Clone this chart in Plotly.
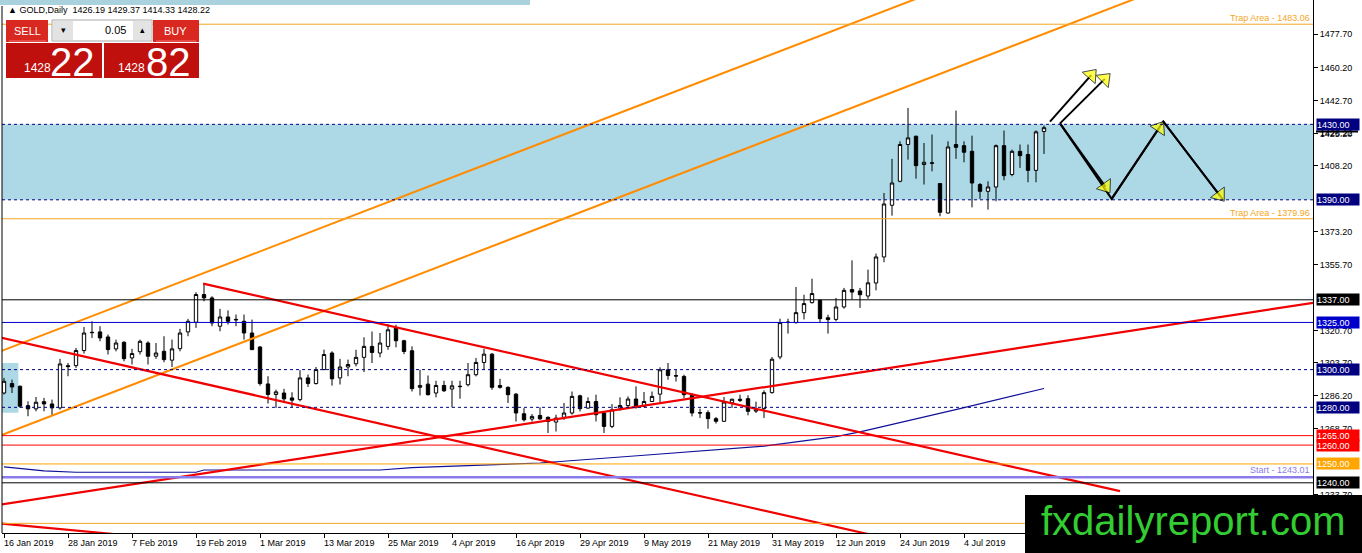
import plotly.graph_objects as go

# ---------------- data ----------------
label_bars = [0, 8, 16, 24, 32, 40, 48, 56, 64, 72, 80, 88, 96, 104, 112, 120]
date_labels = ["16 Jan 2019", "28 Jan 2019", "7 Feb 2019", "19 Feb 2019", "1 Mar 2019",
               "13 Mar 2019", "25 Mar 2019", "4 Apr 2019", "16 Apr 2019", "29 Apr 2019",
               "9 May 2019", "21 May 2019", "31 May 2019", "12 Jun 2019", "24 Jun 2019",
               "4 Jul 2019"]

opens = [1287.6, 1292.6, 1291.2, 1280.9, 1279.2, 1283.0, 1281.8, 1279.7, 1302.1, 1302.1,
         1310.1, 1319.8, 1320.0, 1317.3, 1311.0, 1314.5, 1306.2, 1309.5, 1314.1, 1307.1,
         1309.7, 1305.0, 1311.1, 1320.0, 1325.1, 1339.8, 1338.0, 1323.0, 1327.9, 1326.6,
         1325.6, 1319.4, 1312.0, 1292.4, 1286.8, 1287.6, 1285.0, 1284.1, 1295.6, 1292.6,
         1300.0, 1308.8, 1295.6, 1301.4, 1303.1, 1306.5, 1312.3, 1308.8, 1312.3, 1322.0,
         1315.3, 1310.0, 1290.6, 1292.3, 1287.6, 1291.6, 1289.7, 1291.2, 1292.0, 1297.3,
         1303.8, 1308.2, 1291.6, 1290.6, 1287.0, 1276.6, 1273.8, 1275.7, 1274.7, 1272.2,
         1274.7, 1277.0, 1286.1, 1279.6, 1283.1, 1277.0, 1269.9, 1279.6, 1281.0, 1284.4,
         1280.5, 1283.1, 1287.0, 1299.9, 1296.8, 1296.4, 1286.3, 1277.2, 1277.2, 1274.0,
         1272.6, 1282.5, 1284.3, 1284.6, 1278.0, 1279.3, 1287.8, 1306.7, 1325.2, 1324.9,
         1330.2, 1335.5, 1336.7, 1327.5, 1326.6, 1333.2, 1342.4, 1341.7, 1339.0, 1345.9,
         1359.7, 1387.1, 1399.8, 1419.3, 1423.7, 1408.7, 1409.6, 1398.6, 1383.0, 1419.3,
         1418.7, 1415.7, 1398.1, 1394.5, 1396.8, 1418.7, 1403.4, 1415.7, 1414.0, 1405.6,
         1426.19]
highs = [1295.6, 1294.7, 1291.5, 1283.2, 1285.5, 1285.0, 1284.1, 1305.7, 1303.5, 1311.5,
         1322.6, 1325.6, 1323.0, 1318.6, 1315.9, 1315.0, 1311.0, 1315.9, 1315.0, 1314.1,
         1317.7, 1315.9, 1321.6, 1326.9, 1341.0, 1345.9, 1338.9, 1332.2, 1331.4, 1329.2,
         1329.2, 1326.5, 1312.4, 1296.5, 1289.4, 1289.8, 1288.0, 1299.7, 1297.4, 1301.4,
         1310.6, 1309.7, 1305.7, 1305.3, 1310.5, 1317.1, 1320.2, 1319.4, 1324.1, 1323.8,
         1315.8, 1312.3, 1299.9, 1296.9, 1294.1, 1294.1, 1294.1, 1294.1, 1303.5, 1306.1,
         1311.0, 1308.8, 1295.1, 1291.1, 1287.6, 1279.6, 1276.4, 1280.0, 1275.2, 1276.1,
         1282.3, 1288.4, 1286.7, 1285.3, 1286.7, 1277.8, 1281.7, 1285.3, 1285.8, 1291.1,
         1288.1, 1288.4, 1301.2, 1303.5, 1299.9, 1297.3, 1287.6, 1279.3, 1278.4, 1274.9,
         1285.5, 1284.6, 1286.7, 1286.4, 1283.0, 1289.0, 1306.7, 1327.0, 1327.0, 1343.8,
         1339.7, 1348.2, 1337.2, 1329.1, 1338.0, 1343.3, 1357.9, 1343.3, 1353.0, 1361.5,
         1393.6, 1411.7, 1421.0, 1438.7, 1424.0, 1420.1, 1424.6, 1398.9, 1421.0, 1437.3,
         1421.0, 1424.0, 1398.9, 1399.8, 1419.3, 1426.7, 1416.6, 1419.3, 1419.3, 1426.8,
         1429.37]
lows = [1286.8, 1287.6, 1279.7, 1275.3, 1277.9, 1277.9, 1275.6, 1278.8, 1296.5, 1300.9,
        1308.5, 1316.8, 1315.0, 1308.0, 1309.7, 1304.4, 1302.7, 1308.0, 1302.7, 1305.7,
        1303.9, 1301.4, 1309.7, 1317.7, 1322.1, 1336.2, 1323.0, 1320.3, 1323.9, 1323.0,
        1315.9, 1310.3, 1291.5, 1282.0, 1279.7, 1282.4, 1279.7, 1283.2, 1290.8, 1292.1,
        1299.7, 1291.5, 1292.1, 1296.5, 1301.7, 1298.7, 1303.5, 1306.5, 1310.5, 1311.8,
        1308.2, 1288.4, 1286.3, 1286.3, 1285.3, 1288.1, 1280.0, 1284.6, 1291.1, 1296.4,
        1299.9, 1289.3, 1289.9, 1282.3, 1272.5, 1272.5, 1272.5, 1273.4, 1266.4, 1267.2,
        1273.4, 1276.1, 1277.8, 1279.3, 1272.5, 1266.4, 1269.0, 1278.2, 1279.6, 1279.3,
        1280.0, 1282.8, 1282.8, 1294.6, 1293.7, 1284.9, 1275.2, 1274.4, 1268.7, 1271.4,
        1272.3, 1279.7, 1282.8, 1275.8, 1277.0, 1274.4, 1287.3, 1305.5, 1319.1, 1324.4,
        1326.6, 1335.0, 1324.9, 1319.1, 1325.6, 1332.3, 1337.2, 1332.7, 1337.5, 1342.0,
        1356.9, 1381.6, 1399.3, 1411.3, 1401.2, 1398.1, 1405.1, 1381.3, 1382.7, 1411.7,
        1409.9, 1386.0, 1390.5, 1384.8, 1389.2, 1400.4, 1402.5, 1406.9, 1399.3, 1399.3,
        1414.33]
closes = [1293.8, 1290.8, 1280.6, 1279.2, 1282.7, 1281.8, 1279.7, 1303.0, 1301.6, 1310.1,
          1319.4, 1319.6, 1316.8, 1310.6, 1314.1, 1305.8, 1308.5, 1315.0, 1307.1, 1308.8,
          1305.3, 1311.0, 1319.4, 1325.6, 1339.8, 1338.0, 1324.7, 1327.9, 1325.6, 1326.4,
          1319.4, 1310.6, 1292.6, 1286.8, 1288.2, 1284.5, 1283.8, 1295.6, 1292.6, 1300.0,
          1308.0, 1295.1, 1301.4, 1302.7, 1306.5, 1312.3, 1309.1, 1314.1, 1321.1, 1315.3,
          1309.6, 1289.9, 1291.6, 1286.7, 1291.6, 1288.8, 1291.4, 1291.0, 1297.3, 1303.8,
          1308.2, 1290.6, 1290.6, 1286.7, 1277.0, 1273.4, 1275.2, 1273.9, 1272.5, 1274.3,
          1277.0, 1285.8, 1279.3, 1283.1, 1276.1, 1269.9, 1278.7, 1281.0, 1284.4, 1280.0,
          1283.1, 1285.8, 1299.9, 1296.9, 1296.6, 1286.7, 1277.0, 1277.0, 1274.0, 1272.6,
          1282.8, 1284.3, 1283.7, 1277.9, 1278.8, 1287.8, 1305.5, 1324.9, 1325.0, 1330.2,
          1335.0, 1340.3, 1327.0, 1326.5, 1333.2, 1342.0, 1341.1, 1339.7, 1346.0, 1359.7,
          1387.8, 1398.9, 1419.3, 1422.8, 1408.1, 1409.9, 1409.4, 1383.4, 1418.0, 1417.8,
          1415.2, 1398.9, 1394.5, 1396.8, 1418.7, 1402.8, 1415.7, 1413.4, 1405.6, 1426.0,
          1428.22]
bars = list(range(len(opens)))

# moving average (bar index, price)
ma_bars = [0, 5, 9, 24, 25, 47, 51, 62, 67, 80, 95, 104, 107, 119.5, 130]
ma_vals = [1248.5, 1246.3, 1245.6, 1245.6, 1246.8, 1246.8, 1248.1, 1249.6, 1250.5,
           1254.6, 1259.4, 1264.5, 1267.0, 1279.3, 1290.0]

# right-axis price ticks that are visible in the reference
y_ticks = [1477.7, 1460.2, 1442.7, 1425.2, 1408.2, 1373.2, 1355.7,
           1320.7, 1303.7, 1286.2, 1268.7, 1233.7]

zone_low, zone_high = 1390.0, 1430.0
left_box_bars = [-1.0, 1.8]
left_box_prices = [1277.2, 1303.5]

trap_prices = [1483.06, 1379.96]
start_price = 1243.01
extra_orange_price = 1218.5
level_prices = [1430.0, 1390.0, 1337.0, 1325.0, 1300.0, 1280.0, 1265.0, 1260.0, 1250.0, 1240.0]

# trendlines: (bar, price) endpoints
orange_lines_x = [[-0.5, 120.0], [-0.5, 150.0]]
orange_lines_y = [[1309.6, 1506.3], [1265.0, 1510.6]]
red_lines_x = [[24.9, 139.5], [-0.5, 112.0], [-0.5, 165.0], [-0.5, 14.0]]
red_lines_y = [[1345.6, 1235.6], [1317.0, 1209.0], [1228.4, 1336.3], [1218.5, 1212.7]]

# projection arrows (bar, price)
arrow_starts = [(130.75, 1431.4), (132.0, 1430.5)]
arrow_heads = [(135.9, 1456.1), (137.6, 1454.1)]
zigzag_x = [132.0, 138.46, 144.91, 152.41]
zigzag_y = [1430.5, 1390.5, 1431.5, 1389.9]
zigzag_heads = [(137.7, 1396.9), (144.42, 1428.2), (151.96, 1392.4)]

header_text = "▲ GOLD,Daily  1426.19 1429.37 1414.33 1428.22"
lot_size = "0.05"
bid_big, bid_small = "22", "1428"
ask_big, ask_small = "82", "1428"
watermark = "fxdailyreport.com"

# ---------------- figure ----------------
W, H = 1362, 553
ML, MR, MT, MB = 2, 49, 0, 20
PW, PH = W - ML - MR, H - MT - MB


def px_x(px):
    return (px - ML) / PW


def px_y(py):
    return (PH - (py - MT)) / PH


FONT = "Liberation Sans"
fig = go.Figure()

fig.add_trace(go.Candlestick(
    x=bars, open=opens, high=highs, low=lows, close=closes,
    increasing=dict(line=dict(color="black", width=1), fillcolor="white"),
    decreasing=dict(line=dict(color="black", width=1), fillcolor="black"),
    whiskerwidth=0, hoverinfo="skip", showlegend=False))

fig.add_trace(go.Scatter(x=ma_bars, y=ma_vals, mode="lines",
                         line=dict(color="#10109A", width=1.2), hoverinfo="skip"))

for xs, ys in zip(orange_lines_x, orange_lines_y):
    fig.add_trace(go.Scatter(x=xs, y=ys, mode="lines",
                             line=dict(color="#FF8C00", width=2), hoverinfo="skip"))
for xs, ys in zip(red_lines_x, red_lines_y):
    fig.add_trace(go.Scatter(x=xs, y=ys, mode="lines",
                             line=dict(color="#F00000", width=2.2), hoverinfo="skip"))

# arrows
fig.add_trace(go.Scatter(x=zigzag_x, y=zigzag_y, mode="lines",
                         line=dict(color="black", width=2), hoverinfo="skip"))
head_marker = dict(symbol="triangle-up", size=[0, 15], color="#FFFF00",
                   line=dict(color="black", width=1), angleref="previous")
for (sx, sy), (hx, hy) in zip(arrow_starts, arrow_heads):
    fig.add_trace(go.Scatter(x=[sx, hx], y=[sy, hy], mode="lines+markers",
                             line=dict(color="black", width=2), marker=head_marker,
                             hoverinfo="skip"))
for k, (hx, hy) in enumerate(zigzag_heads):
    fig.add_trace(go.Scatter(x=[zigzag_x[k], hx], y=[zigzag_y[k], hy], mode="lines+markers",
                             line=dict(color="black", width=2), marker=head_marker,
                             hoverinfo="skip"))

shapes = []
# zones (below candles)
shapes.append(dict(type="rect", xref="paper", yref="y", x0=0, x1=1, y0=zone_low, y1=zone_high,
                   fillcolor="#ADD8E6", line=dict(width=0), layer="below"))
shapes.append(dict(type="rect", xref="x", yref="y", x0=left_box_bars[0], x1=left_box_bars[1],
                   y0=left_box_prices[0], y1=left_box_prices[1],
                   fillcolor="#ADD8E6", line=dict(width=0), layer="below"))

level_style = {
    1430.0: ("#000080", "3px,3px"), 1390.0: ("#000080", "3px,3px"),
    1300.0: ("#000080", "3px,3px"), 1280.0: ("#000080", "3px,3px"),
    1337.0: ("black", "solid"), 1240.0: ("black", "solid"),
    1325.0: ("#0000CD", "solid"), 1265.0: ("#FF0000", "solid"),
    1260.0: ("#FF0000", "solid"), 1250.0: ("#FFA500", "solid"),
}
for p in level_prices:
    col, dash = level_style[p]
    shapes.append(dict(type="line", xref="paper", yref="y", x0=0, x1=1, y0=p, y1=p,
                       line=dict(color=col, width=1, dash=dash), layer="above"))
for p in trap_prices + [extra_orange_price]:
    shapes.append(dict(type="line", xref="paper", yref="y", x0=0, x1=1, y0=p, y1=p,
                       line=dict(color="#F5A623", width=1), layer="above"))
shapes.append(dict(type="line", xref="paper", yref="y", x0=0, x1=1, y0=start_price,
                   y1=start_price, line=dict(color="#8A7CEB", width=2.5), layer="above"))

# left frame and top strip
shapes.append(dict(type="line", xref="paper", yref="paper", x0=0, x1=0, y0=0, y1=px_y(6),
                   line=dict(color="black", width=1)))
shapes.append(dict(type="rect", xref="paper", yref="paper", x0=px_x(0), x1=px_x(530),
                   y0=px_y(5), y1=px_y(0), fillcolor="#A9D1DE", line=dict(width=0)))

# bid marker on axis
shapes.append(dict(type="line", xref="paper", yref="y", x0=px_x(1316), x1=px_x(1358),
                   y0=closes[-1] - 2.0, y1=closes[-1] - 2.0,
                   line=dict(color="black", width=2)))

# trading panel
def rect(x0, y0, x1, y1, fill, line_col=None):
    shapes.append(dict(type="rect", xref="paper", yref="paper",
                       x0=px_x(x0), x1=px_x(x1), y0=px_y(y1), y1=px_y(y0),
                       fillcolor=fill,
                       line=dict(color=line_col or fill, width=1 if line_col else 0)))

rect(6, 20, 48, 42, "#D8281F")
rect(153, 20, 199, 42, "#D8281F")
rect(6, 43, 102, 78, "#C0100E")
rect(104, 43, 199, 78, "#C0100E")
rect(52, 20, 152, 41, "white", "#A8A8A8")
rect(53, 21, 73, 40, "#E3E3E3")
rect(133, 21, 151, 40, "#E3E3E3")
shapes.append(dict(type="line", xref="paper", yref="paper", x0=px_x(9), x1=px_x(46),
                   y0=px_y(41), y1=px_y(41), line=dict(color="#F07070", width=1)))
shapes.append(dict(type="line", xref="paper", yref="paper", x0=px_x(156), x1=px_x(196),
                   y0=px_y(41), y1=px_y(41), line=dict(color="#F07070", width=1)))

# watermark box
shapes.append(dict(type="rect", xref="paper", yref="paper", x0=px_x(1025), x1=px_x(1362),
                   y0=px_y(553), y1=px_y(495), fillcolor="black", line=dict(width=0),
                   layer="above"))

annotations = []


def text_px(x, y, txt, size, color, xanchor="center", family=FONT):
    annotations.append(dict(xref="paper", yref="paper", x=px_x(x), y=px_y(y), text=txt,
                            showarrow=False, xanchor=xanchor, yanchor="middle",
                            font=dict(family=family, size=size, color=color)))

# x axis date labels
for b, lab in zip(label_bars, date_labels):
    annotations.append(dict(xref="x", yref="paper", x=b, y=0, text=lab, showarrow=False,
                            xanchor="left", yanchor="top", xshift=-2, yshift=-3,
                            font=dict(family=FONT, size=9, color="black")))

# right-axis level boxes
box_bg = {1430.0: "#000080", 1390.0: "#000080", 1300.0: "#000080", 1280.0: "#000080",
          1337.0: "black", 1240.0: "black", 1325.0: "#0000CD", 1265.0: "#FF0000",
          1260.0: "#FF0000", 1250.0: "#FFA500"}
annotations.append(dict(xref="paper", yref="y", x=1, y=closes[-1] - 2.6, text=f"{closes[-1]:.2f}",
                        showarrow=False, xanchor="left", xshift=5, yanchor="middle",
                        font=dict(family=FONT, size=9, color="black")))
for p in level_prices:
    annotations.append(dict(xref="paper", yref="y", x=1, y=p, text=f"{p:.2f}",
                            showarrow=False, xanchor="left", xshift=3, yanchor="middle",
                            bgcolor=box_bg[p], borderpad=0, width=42, height=11, align="left",
                            font=dict(family=FONT, size=9, color="white")))

# trap / start labels
for p in trap_prices:
    annotations.append(dict(xref="paper", yref="y", x=1, y=p, text=f"Trap Area - {p:.2f}",
                            showarrow=False, xanchor="right", yanchor="bottom", xshift=-1,
                            yshift=-1, font=dict(family=FONT, size=9, color="#F5A623")))
annotations.append(dict(xref="paper", yref="y", x=1, y=start_price,
                        text=f"Start - {start_price:.2f}", showarrow=False, xanchor="right",
                        yanchor="bottom", xshift=-1, yshift=0,
                        font=dict(family=FONT, size=9, color="#8A7CEB")))

# header and panel texts
text_px(6, 10, header_text, 9, "black", xanchor="left")
text_px(27, 31, "SELL", 11, "white")
text_px(176, 31, "BUY", 11, "white")
text_px(128, 30, lot_size, 11, "black", xanchor="right")
text_px(63, 30, "▾", 9, "black")
text_px(142, 30, "▴", 9, "black")
text_px(37, 68, bid_small, 12, "white")
text_px(72, 62, bid_big, 40, "white", family="Liberation Sans Narrow, Liberation Sans")
text_px(131, 68, ask_small, 12, "white")
text_px(168, 62, ask_big, 40, "white", family="Liberation Sans Narrow, Liberation Sans")

# watermark text
text_px(1193, 521, watermark, 40, "#33CC33")

fig.update_layout(
    width=W, height=H, margin=dict(l=ML, r=MR, t=MT, b=MB),
    paper_bgcolor="white", plot_bgcolor="white", showlegend=False,
    font=dict(family=FONT, size=9, color="black"),
    boxgap=0.4,
    xaxis=dict(range=[-0.25, 163.625], showgrid=False, zeroline=False, showline=True,
               linecolor="black", linewidth=1, ticks="outside", ticklen=4,
               tickcolor="black", tickvals=label_bars, showticklabels=False,
               rangeslider=dict(visible=False), fixedrange=True),
    yaxis=dict(side="right", range=[1213.4, 1495.9], showgrid=False, zeroline=False,
               showline=True, linecolor="black", linewidth=1, ticks="outside", ticklen=4,
               tickcolor="black", tickvals=y_ticks, ticktext=[f"{v:.2f}" for v in y_ticks],
               tickfont=dict(family=FONT, size=9, color="black"), fixedrange=True),
    shapes=shapes, annotations=annotations,
)

fig.write_html("out.html", config={"displayModeBar": False},
               post_script="document.body.style.margin='0';document.body.style.overflow='hidden';")
